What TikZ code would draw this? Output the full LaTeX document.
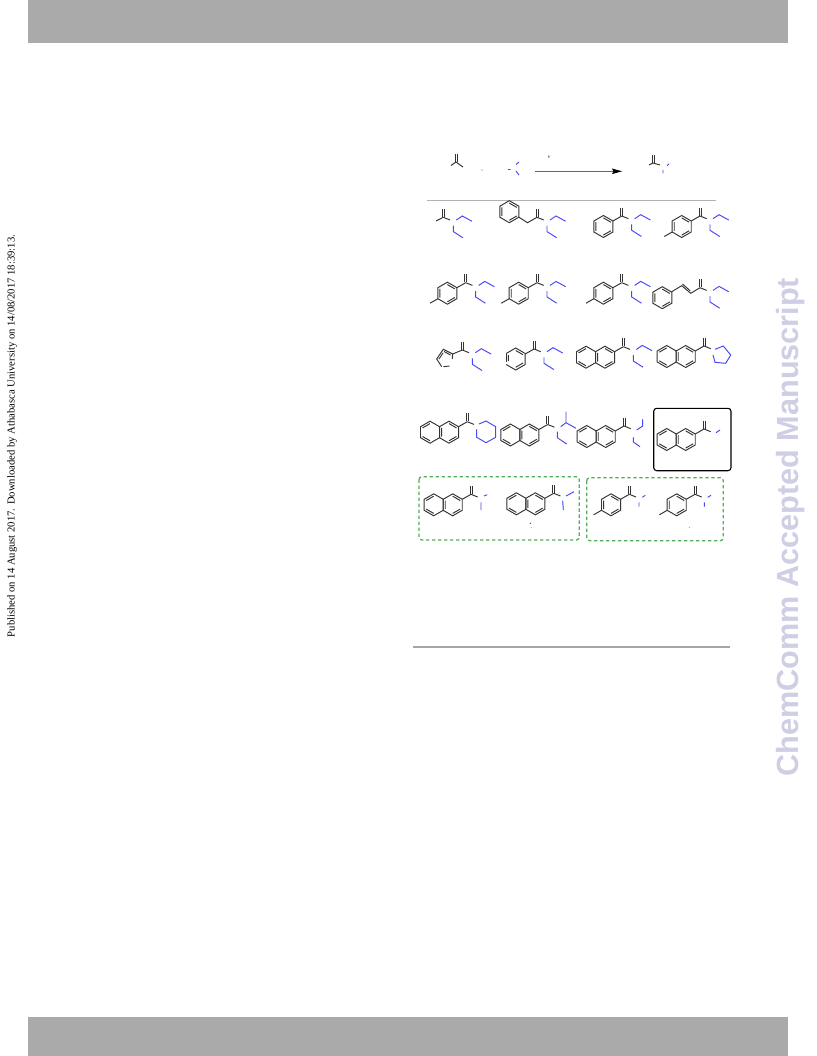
\documentclass[tikz,border=0pt]{standalone}
\usepackage{fontspec}
\setmainfont{Liberation Serif}
\newfontfamily\wmfont{Liberation Sans}
\usepackage{xcolor}
\usetikzlibrary{arrows.meta}
\definecolor{barGray}{RGB}{170,170,170}
\definecolor{wmLav}{RGB}{206,206,228}
\definecolor{bondBlue}{RGB}{70,70,250}
\definecolor{boxGreen}{RGB}{85,175,90}

\begin{document}
\begin{tikzpicture}[
    x=1pt, y=-1pt,
    % Styles
    bar/.style={fill=barGray, draw=none},
    bond/.style={line width=0.95pt, draw=black!80},
    nbond/.style={line width=0.95pt, draw=bondBlue},
    hitbox/.style={rounded corners=3pt, draw=black, line width=1.1pt},
    greenbox/.style={rounded corners=3pt, draw=boxGreen, line width=1.3pt, dash pattern=on 3.3pt off 2.7pt},
    sidetext/.style={rotate=90, anchor=center, font=\fontsize{10.65}{12}\selectfont},
    wmtext/.style={rotate=90, anchor=center, text=wmLav, font=\wmfont\bfseries\fontsize{30.6}{32}\selectfont},
    speck/.style={circle, fill=black!#1, inner sep=0pt, minimum size=1.2pt},
    % Fragments, origin on the carbonyl carbon
    carbonyl/.pic={
        \draw[bond] (-1,-8.3) -- (-1,-0.3) (1,-8.3) -- (1,-0.3);
        \draw[bond] (0,0) -- (6.7,2.7);
    },
    arylring/.pic={
        \draw[bond] (30:11) -- (90:11) -- (150:11) -- (210:11) -- (270:11) -- (330:11) -- cycle;
        \draw[bond] (90:8.6) -- (30:8.6) (330:8.6) -- (270:8.6) (150:8.6) -- (210:8.6);
    },
    phenylco/.pic={
        \pic {carbonyl};
        \pic at (-18.3,10.5) {arylring};
        \draw[bond] (0,0) -- (-8.8,5);
    },
    tolylco/.pic={
        \pic {phenylco};
        \draw[bond] (-27.8,16) -- (-35.7,20.5);
    },
    naphco/.pic={
        \pic {carbonyl};
        \draw[bond] (0,0) -- (-8.8,5);
        \begin{scope}[shift={(-18.3,10.5)}]
            \draw[bond] (30:11) -- (90:11) -- (150:11) -- (210:11) -- (270:11) -- (330:11) -- cycle;
            \draw[bond] (90:8.6) -- (30:8.6) (330:8.6) -- (270:8.6) (150:8.6) -- (210:8.6);
        \end{scope}
        \begin{scope}[shift={(-37.3,10.5)}]
            \draw[bond] (30:11) -- (90:11) -- (150:11) -- (210:11) -- (270:11) -- (330:11) -- cycle;
            \draw[bond] (90:8.6) -- (150:8.6) (210:8.6) -- (270:8.6);
        \end{scope}
    },
    diethyl/.pic={
        \draw[nbond] (13,2.7) -- (19,-1.3) -- (28.7,4);
        \draw[nbond] (10,8.3) -- (10,14.3) -- (19.7,20.5);
    },
]

\useasboundingbox (0,0) rectangle (816,1056);
\fill[white] (0,0) rectangle (816,1056);

% ===== PAGE FURNITURE =====
\fill[bar] (28,0) rectangle (788,43);
\fill[bar] (28,1017) rectangle (788,1056);
\node[sidetext] (published) at (12,436) {Published on 14 August 2017. Downloaded by Athabasca University on 14/08/2017 18:39:13.};
\node[wmtext] (watermark) at (790.5,527) {ChemComm Accepted Manuscript};

% ===== REACTION =====
\draw[bond] (455,154) -- (455,162) (457,154) -- (457,162);
\draw[bond] (456,162) -- (451,165.5) (456,162) -- (463,167);
\node[speck=60] (plus) at (482,170) {};
\draw[nbond] (508,169.5) -- (510.5,169.5) (516,164.5) -- (519,162) (516,171) -- (519,175);
\node[inner sep=0pt, font=\fontsize{5}{5}\selectfont] (cond) at (549,157) {v};
\coordinate (arrowL) at (535,171.3);
\coordinate (arrowR) at (622,171.3);
\draw[line width=0.9pt, draw=black!60, -{Stealth[length=10pt,width=5.5pt,inset=1.5pt,color=black]}] (arrowL) -- (arrowR);
\draw[bond] (652,155) -- (652,163) (654,155) -- (654,163);
\draw[bond] (653,163) -- (649,165) (653,163) -- (660,165);
\draw[nbond] (663,170) -- (663,173.5) (667,165.5) -- (669,164);
\draw[line width=1pt, draw=black!30] (427,200.3) -- (716,200.3);

% ===== ROW 1 =====
\pic (amA) at (443.3,217.3) {carbonyl};
\draw[bond] (443.3,217.3) -- (436,221);
\pic at (443.3,217.3) {diethyl};
\pic (amB) at (537,217.3) {carbonyl};
\draw[bond] (537,217.3) -- (527.5,222.7) -- (519,217.3);
\pic at (509.3,211.7) {arylring};
\pic at (537,217.3) {diethyl};
\pic (amC) at (621.7,216) {phenylco};
\pic at (621.7,216) {diethyl};
\pic (amD) at (700,216) {tolylco};
\pic at (700,216) {diethyl};

% ===== ROW 2 =====
\pic (amE) at (465.7,282.7) {tolylco};
\pic at (465.7,282.7) {diethyl};
\pic (amF) at (537,282.7) {tolylco};
\pic at (537,282.7) {diethyl};
\pic (amG) at (621.7,282.7) {tolylco};
\pic at (621.7,282.7) {diethyl};
\pic (amH) at (700,287.7) {carbonyl};
\draw[bond] (700,287.7) -- (690.7,293.3) -- (681.7,285.7) -- (671.7,291.7);
\draw[bond] (690.2,290.8) -- (682.5,284) ;
\pic at (662.3,297.7) {arylring};
\pic at (700,287.7) {diethyl};

% ===== ROW 3 =====
\pic (amI) at (462.3,350) {carbonyl};
\draw[bond] (462.3,350) -- (452.7,354) -- (443.3,349.3) -- (436.7,359) -- (441.7,366.7);
\draw[bond] (443.5,366.7) -- (449.5,366) (452.7,354) -- (452.2,359);
\draw[bond] (450.5,355) -- (444,351.5) (439,359) -- (443,353);
\pic at (462.3,350) {diethyl};
\pic (amJ) at (534,349) {carbonyl};
\draw[bond] (534,349) -- (525.2,354);
\draw[bond] (506.2,353.5) -- (515.7,348) -- (525.2,353.5) -- (525.2,364.5) -- (515.7,370) -- (506.2,364.5);
\draw[bond] (506.2,353.5) -- (506.2,361.5);
\draw[bond] (515.7,350.5) -- (523,354.7) (523,363) -- (515.7,367.3) (508.3,355) -- (508.3,361);
\pic at (534,349) {diethyl};
\pic (amK) at (623.3,346.7) {naphco};
\pic at (623.3,346.7) {diethyl};
\pic (amL) at (704,346) {naphco};
\draw[nbond] (715,349.3) -- (723.3,346) -- (730.7,355) -- (725.7,363.3) -- (715,362.3) -- (713,355);

% ===== ROW 4 =====
\pic (amM) at (467.3,421.7) {naphco};
\draw[nbond] (479,424) -- (486,421) -- (495.7,426.7) -- (495.7,437.3) -- (486,442.7) -- (476.7,437.3) -- (476.7,429.3);
\pic (amN) at (547.7,424.5) {naphco};
\draw[nbond] (560.7,426.7) -- (566,422.7) -- (566,411.7) (566,422.7) -- (576,428.3);
\draw[nbond] (557.3,431.7) -- (557.3,437.7) -- (566.7,444);
\pic (amO) at (624,426) {naphco};
\draw[nbond] (636.7,430) -- (642.7,426) -- (642.7,419.3);
\draw[nbond] (633.3,437.3) -- (633.3,442) -- (640,446.7);
\draw[hitbox] (653.7,408.3) rectangle (731,470.7);
\pic (amP) at (704,429) {naphco};
\draw[nbond] (716,432.7) -- (720,430);

% ===== ROW 5 =====
\draw[greenbox] (419,476.7) rectangle (579.3,540);
\draw[greenbox] (586.7,477.7) rectangle (723.3,540.7);
\pic (amQ) at (471,494.3) {naphco};
\draw[nbond] (484,496) -- (487.3,494.7) (481,502.3) -- (481,510);
\pic (amR) at (553.7,493.3) {naphco};
\draw[nbond] (566,496) -- (574,491.7) (562.7,500.7) -- (563.3,510);
\node[speck=90] (dotA) at (530.3,523.3) {};
\node[speck=35] (dotB) at (531.3,527.3) {};
\pic (amS) at (629.3,494.3) {tolylco};
\draw[nbond] (642.3,497.3) -- (645.3,495.3) (639,502.3) -- (639,506.7);
\pic (amT) at (695,494.3) {tolylco};
\draw[nbond] (707.7,497.3) -- (711,495.3) (704.3,502.3) -- (704.3,506.7);
\node[speck=40] (dotC) at (689.3,527.3) {};

% ===== FOOT RULE =====
\draw[line width=1.6pt, draw=black!35] (413.3,646.7) -- (730,646.7);

\end{tikzpicture}
\end{document}
